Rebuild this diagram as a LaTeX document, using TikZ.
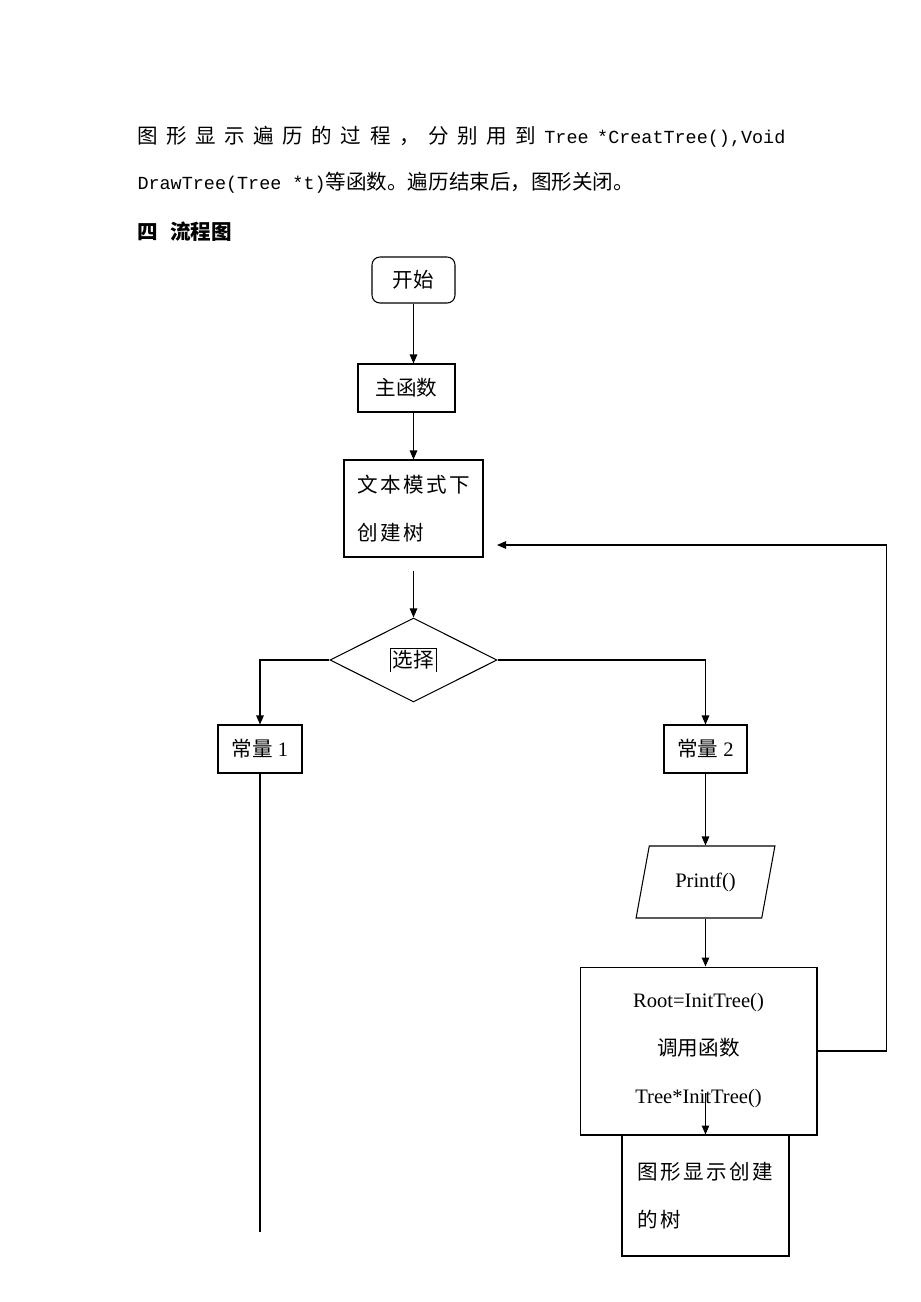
\documentclass[tikz,border=0pt]{standalone}
\usepackage{fontspec}
\setmainfont{Liberation Serif}
\setmonofont{Liberation Mono}
\newfontfamily\cjk{Noto Sans CJK SC}
\newfontfamily\cjkw[LetterSpace=12]{Noto Sans CJK SC}
\newcommand\code[1]{{\fontsize{10.5}{12}\selectfont\ttfamily #1}}
\usetikzlibrary{shapes.geometric, arrows.meta}

\begin{document}
\begin{tikzpicture}[x=0.02cm, y=-0.02cm, line width=0.6pt, >={Triangle[length=1.8mm, width=1.5mm]},
  font=\fontsize{11.7}{27.3}\selectfont]
\tikzset{box/.style={draw, inner sep=0pt}}
\useasboundingbox (0,0) rectangle (920,1302);

% text above the chart
\node[anchor=west, inner sep=0pt] (para1) at (137,137) {\makebox[12.96cm][s]{{\cjk 图\hfill 形\hfill 显\hfill 示\hfill 遍\hfill 历\hfill 的\hfill 过\hfill 程\hfill ，\hfill 分\hfill 别\hfill 用\hfill 到}\hfill\code{Tree}\hfill\code{*CreatTree(),Void}}};
\node[anchor=west, inner sep=0pt] (para2) at (137,183) {\code{DrawTree(Tree *t)}{\cjk 等函数。遍历结束后，图形关闭。}};
\node[anchor=west, inner sep=0pt] (title) at (137,232) {\cjk\bfseries 四\hspace{0.24cm}流程图};

% chart
\node[box, rounded corners=4.5pt, minimum width=1.66cm, minimum height=0.92cm] (start) at (413.5,280) {\cjk 开始};
\node[box, minimum width=1.94cm, minimum height=0.96cm] (main) at (406.5,388) {\cjk 主函数};
\node[box, minimum width=2.78cm, minimum height=1.94cm, align=left] (build) at (413.5,508.5) {\cjkw 文本模式下\\\cjkw 创建树};
\node[draw, diamond, aspect=2, minimum width=3.34cm, minimum height=1.68cm, inner sep=0pt] (choose) at (413.5,660) {};
\node[inner sep=1pt] (chooselbl) at (choose.center) {\cjk 选择};
\draw[line width=0.4pt] (chooselbl.south west) |- (chooselbl.north east) -- (chooselbl.south east);
\node[box, minimum width=1.68cm, minimum height=0.96cm] (c1) at (260,749) {{\cjk 常量} 1};
\node[box, minimum width=1.66cm, minimum height=0.96cm] (c2) at (705.5,749) {{\cjk 常量} 2};
\node[draw, trapezium, trapezium left angle=69.4, trapezium right angle=110.6, trapezium stretches=true,
  minimum width=2.78cm, minimum height=1.44cm, inner sep=0pt] (printf) at (705.5,882) {Printf()};
\node[box, minimum width=4.74cm, minimum height=3.36cm, align=center] (init) at (698.5,1051) {Root=InitTree()\\{\cjk 调用函数}\\Tree*InitTree()};
\node[box, minimum width=3.34cm, minimum height=2.42cm, align=left] (show) at (705.5,1195.5) {\cjkw 图形显示创建\\\cjkw 的树};

\coordinate (end1) at (260,1232);
\coordinate (back) at (497,545);

\draw[->] (start.south) -- (start.south |- main.north);
\draw[->] (start.south |- main.south) -- (build.north);
\draw[->] ([yshift=-0.26cm]build.south) -- (choose.north);
\draw[->] (choose.west) -| (c1.north);
\draw[->] (choose.east) -| (c2.north);
\draw (c1.south) -- (end1);
\draw[->] (c2.south) -- (c2.south |- printf.north);
\draw[->] (c2.south |- printf.south) -- (c2.south |- init.north);
\draw[->] ([yshift=0.84cm]show.north) -- (show.north);
\draw[->] (init.east) -- ++(69,0) |- (back);
\end{tikzpicture}
\end{document}
